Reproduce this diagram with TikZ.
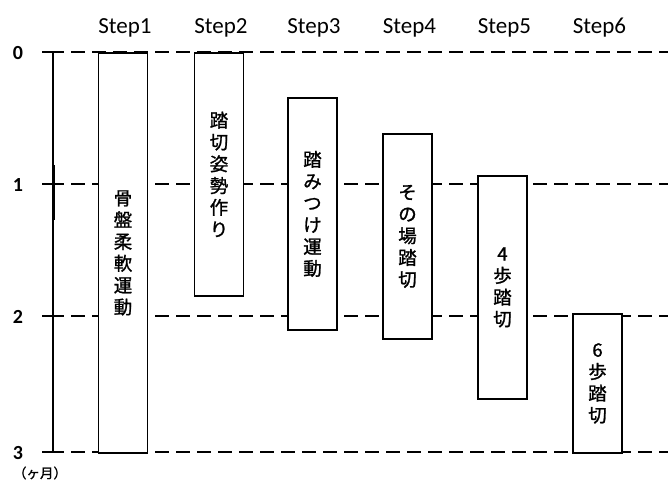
\documentclass[tikz,border=0pt]{standalone}
\usepackage{fontspec}
\setmainfont{Carlito}
\newfontfamily\jp[FakeBold=1.2]{Noto Sans CJK JP}
\begin{document}
\begin{tikzpicture}[x=1pt,y=-1pt,
  grid/.style={line width=1.8pt, dash pattern=on 14pt off 7pt, dash phase=3pt},
  axisline/.style={line width=1.7pt},
  box/.style={draw, line width=1.8pt, fill=white, rectangle, minimum width=49pt,
     inner sep=0pt, anchor=north, align=center,
     font=\jp\fontsize{18.5}{21.8}\selectfont},
  steplabel/.style={anchor=base, font=\fontsize{23}{26}\selectfont},
  numlabel/.style={anchor=base, font=\bfseries\fontsize{20}{22}\selectfont}]
\useasboundingbox (0,0) rectangle (668,483);
% axis coordinates
\coordinate (a0) at (53,52);
\coordinate (a1) at (53,184);
\coordinate (a2) at (53,316);
\coordinate (a3) at (53,452);
\coordinate (l0) at (42,52);
\coordinate (l1) at (42,184);
\coordinate (l2) at (42,316);
\coordinate (l3) at (42,452);
\coordinate (e0) at (668,52);
\coordinate (e1) at (668,184);
\coordinate (e2) at (668,316);
\coordinate (e3) at (668,452);
\coordinate (k0) at (53,165);
\coordinate (k1) at (53,220);
% grid lines
\foreach \i in {0,1,2,3} {
  \draw[grid] (a\i) -- (e\i);
  \draw[axisline] (l\i) -- (a\i);
}
\draw[axisline] (a0) -- (a3);
\draw[line width=3pt] (k0) -- (k1);
% axis numbers
\node[numlabel] (n0) at (18,59) {0};
\node[numlabel] (n1) at (18,191) {1};
\node[numlabel] (n2) at (18,323) {2};
\node[numlabel] (n3) at (18,459) {3};
\node[font=\jp\fontsize{13.5}{15}\selectfont] (unit) at (40,473) {（ヶ月）};
% step labels
\node[steplabel] (h1) at (125,33) {Step1};
\node[steplabel] (h2) at (221,33) {Step2};
\node[steplabel] (h3) at (314,33) {Step3};
\node[steplabel] (h4) at (409.5,33) {Step4};
\node[steplabel] (h5) at (504.5,33) {Step5};
\node[steplabel] (h6) at (599.5,33) {Step6};
% boxes
\node[box, minimum height=400pt] (s1) at (123,52) {骨\\盤\\柔\\軟\\運\\動};
\node[box, minimum height=243pt] (s2) at (219,52) {踏\\切\\姿\\勢\\作\\り};
\node[box, minimum height=232pt] (s3) at (312.5,97) {踏\\み\\つ\\け\\運\\動};
\node[box, minimum height=205pt] (s4) at (407.5,133) {そ\\の\\場\\踏\\切};
\node[box, minimum height=223pt] (s5) at (502.5,175) {4\\歩\\踏\\切};
\node[box, minimum height=139pt] (s6) at (597.5,313) {6\\歩\\踏\\切};
\end{tikzpicture}
\end{document}
